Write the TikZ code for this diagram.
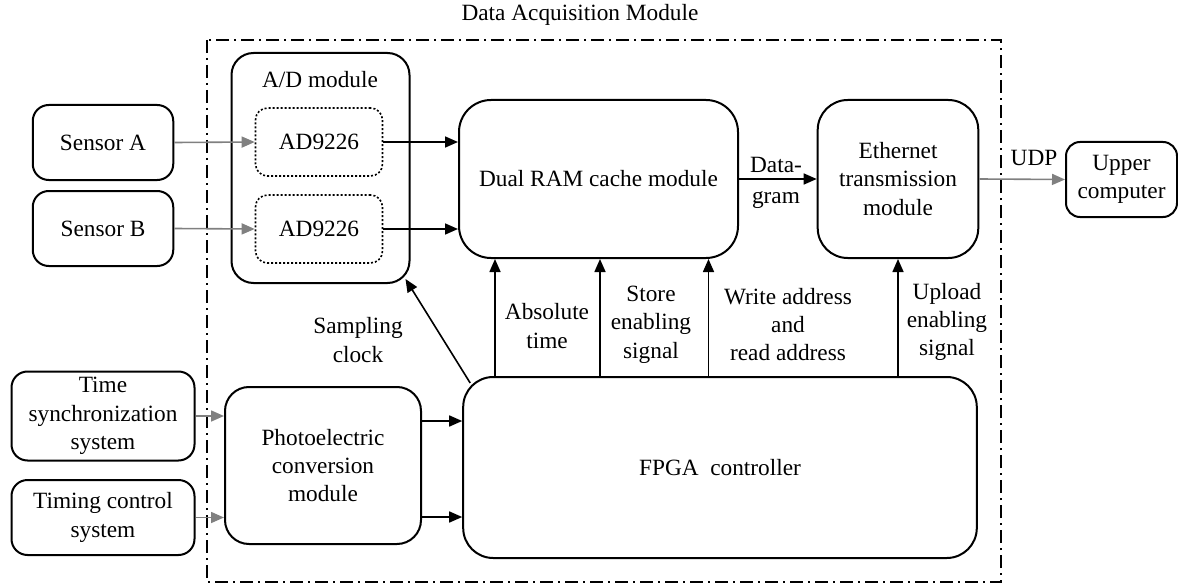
\documentclass[tikz,border=0pt]{standalone}
\usepackage{fontspec}
\setmainfont{Liberation Serif}
\usetikzlibrary{arrows.meta}

\tikzset{
	blk/.style={draw, line width=1pt, rounded corners=#1, align=center, inner sep=0pt},
	blk/.default=8pt,
	adc/.style={draw, line width=0.8pt, dash pattern=on 1pt off 1pt, rounded corners=6pt, align=center, inner sep=0pt, minimum width=63.5pt, minimum height=34pt},
	arr/.style={-{Triangle[length=6.5pt,width=5.5pt]}, line width=0.8pt},
	garr/.style={arr, gray},
	lbl/.style={align=center, inner sep=0pt},
}

\begin{document}
\begin{tikzpicture}[x=0.5pt, y=-0.5pt, font=\fontsize{11.65}{14.2}\selectfont]
	\useasboundingbox (0,0) rectangle (1178,583);
	% module frame
	\draw[line width=0.75pt, dash pattern=on 6.5pt off 2.5pt on 1pt off 2.5pt] (207,40) rectangle (1001,582);
	\node[lbl] (title) at (580,15) {Data Acquisition Module};

	\node[blk, minimum width=70.25pt, minimum height=37.5pt] (sensA) at (103,142.5) {Sensor A};
	\node[blk, minimum width=70.25pt, minimum height=37.5pt] (sensB) at (103,228.5) {Sensor B};
	\node[blk, minimum width=91.5pt, minimum height=44.5pt] (tsync) at (103,416) {Time\\synchronization\\system};
	\node[blk, minimum width=91.5pt, minimum height=37.5pt] (tctrl) at (103,517.5) {Timing control\\system};

	\node[blk=11pt, minimum width=89pt, minimum height=115pt] (admod) at (320.5,168) {};
	\node[lbl] (adtitle) at (320,80) {A/D module};
	\node[adc] (adA) at (319,142) {AD9226};
	\node[adc] (adB) at (319,229) {AD9226};

	\node[blk=16pt, minimum width=139.5pt, minimum height=79pt] (ram) at (598.5,179) {Dual RAM cache module};
	\node[blk=15pt, minimum width=80.3pt, minimum height=79pt] (eth) at (898,179) {Ethernet\\transmission\\module};
	\node[blk=7pt, minimum width=55.5pt, minimum height=37.5pt] (upper) at (1121.5,179.5) {Upper\\computer};
	\node[blk=12pt, minimum width=98pt, minimum height=78.5pt] (photo) at (323,465.5) {Photoelectric\\conversion\\module};
	\node[blk=15pt, minimum width=256.8pt, minimum height=90.5pt] (fpga) at (720,467.5) {FPGA~ controller};

	\draw[garr] (sensA.east) -- (adA.west);
	\draw[garr] (sensB.east) -- (adB.west);
	\draw[arr] (adA.east) -- (adA.east -| ram.west);
	\draw[arr] (adB.east) -- (adB.east -| ram.west);
	\draw[arr] (ram.east) -- (eth.west);
	\node[lbl] (dgram) at (776,183) {Data-\\[1.5pt]gram};
	\draw[garr] (eth.east) -- (upper.west);
	\node[lbl] (udp) at (1034,158) {UDP};

	\draw[garr] (tsync.east) -- (tsync.east -| photo.west);
	\draw[garr] (tctrl.east) -- (tctrl.east -| photo.west);
	\draw[arr] (photo.east |- 0,421) -- (fpga.west |- 0,421);
	\draw[arr] (photo.east |- 0,517) -- (fpga.west |- 0,517);

	\draw[arr] ([shift={(8,7)}]fpga.north west) -- ([shift={(-5,-5)}]admod.south east);
	\node[lbl] (clk) at (358,340) {Sampling\\clock};
	\draw[arr] (fpga.north -| 495,0) -- (ram.south -| 495,0);
	\node[lbl] (abs) at (547,326) {Absolute\\time};
	\draw[arr] (fpga.north -| 600,0) -- (ram.south -| 600,0);
	\node[lbl] (store) at (651,324.5) {Store\\enabling\\signal};
	\draw[arr] (fpga.north -| 708.5,0) -- (ram.south -| 708.5,0);
	\node[lbl] (addr) at (788,324.5) {Write address\\and\\read address};
	\draw[arr] (fpga.north -| eth.south) -- (eth.south);
	\node[lbl] (upl) at (947,322) {Upload\\enabling\\signal};
\end{tikzpicture}
\end{document}
